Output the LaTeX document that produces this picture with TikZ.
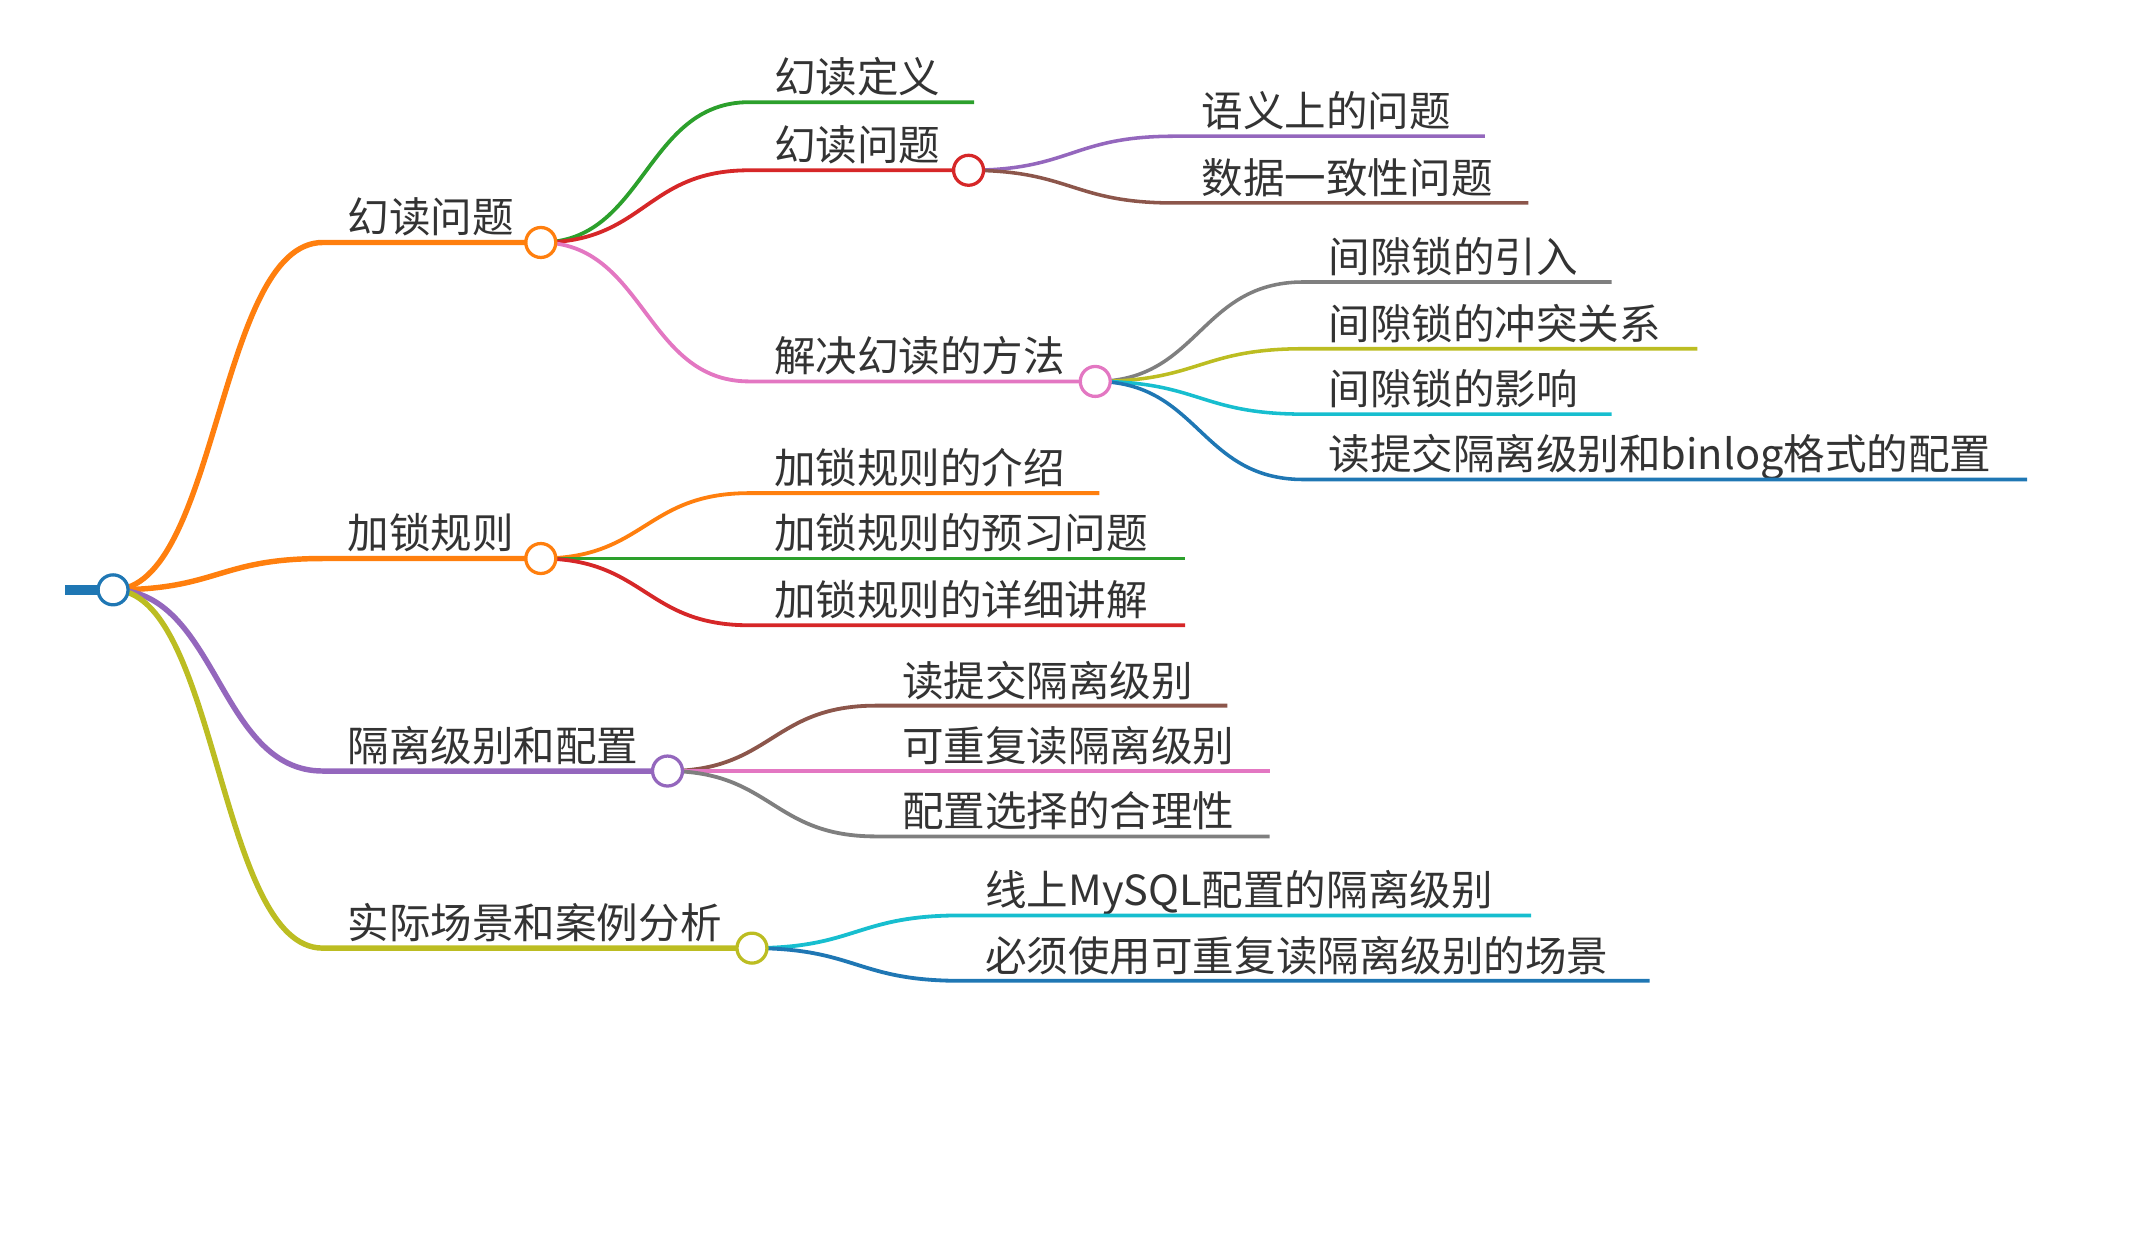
\documentclass[tikz,border=0pt]{standalone}
\usepackage{fontspec}
\setmainfont{Noto Sans CJK SC}
\usetikzlibrary{calc}
\definecolor{cOrange}{HTML}{FF7F0E}
\definecolor{cGreen}{HTML}{2CA02C}
\definecolor{cRed}{HTML}{D62728}
\definecolor{cPurple}{HTML}{9467BD}
\definecolor{cBrown}{HTML}{8C564B}
\definecolor{cPink}{HTML}{E377C2}
\definecolor{cGray}{HTML}{7F7F7F}
\definecolor{cOlive}{HTML}{BCBD22}
\definecolor{cCyan}{HTML}{17BECF}
\definecolor{cBlue}{HTML}{1F77B4}
\definecolor{txt}{HTML}{333333}
\tikzset{
  dot/.style={circle, draw=#1, fill=white, line width=2.4pt, minimum size=22pt, inner sep=0pt},
  lbl/.style={anchor=base west, text=txt, font=\fontsize{30.5}{36}\selectfont, inner sep=0pt},
}
\newcommand\mmlink[5]{%
  \draw[#1, line width=#2] let \p1=(#3), \p2=(#4) in (#3) .. controls ({(\x1+\x2)/2},\y1) and ({(\x1+\x2)/2},\y2) .. (#4) -- (#5);}
\begin{document}
\begin{tikzpicture}[x=1pt,y=-1pt]
\useasboundingbox (0,0) rectangle (1568,909);
% centres of circles
\coordinate (r) at (83,433);
\coordinate (p1) at (397,178);
\coordinate (p2) at (397,410);
\coordinate (p3) at (490,566);
\coordinate (p4) at (552,696);
\coordinate (q1) at (711,125);
\coordinate (q2) at (804,280);
% level 1
\coordinate (s1) at (237,178); \node[lbl] (t1) at (255,171) {幻读问题};
\coordinate (s2) at (237,410); \node[lbl] (t2) at (255,403) {加锁规则};
\coordinate (s3) at (237,566); \node[lbl] (t3) at (255,559) {隔离级别和配置};
\coordinate (s4) at (237,696); \node[lbl] (t4) at (255,689) {实际场景和案例分析};
\mmlink{cOrange}{4pt}{r}{s1}{p1}
\mmlink{cOrange}{4pt}{r}{s2}{p2}
\mmlink{cPurple}{4pt}{r}{s3}{p3}
\mmlink{cOlive}{4pt}{r}{s4}{p4}
% under p1
\coordinate (s11) at (550,75); \coordinate (e11) at (715,75); \node[lbl] (t11) at (568,68) {幻读定义};
\coordinate (s12) at (550,125); \node[lbl] (t12) at (568,118) {幻读问题};
\coordinate (s13) at (550,280); \node[lbl] (t13) at (568,273) {解决幻读的方法};
\mmlink{cGreen}{2.8pt}{p1}{s11}{e11}
\mmlink{cRed}{2.8pt}{p1}{s12}{q1}
\mmlink{cPink}{2.8pt}{p1}{s13}{q2}
% under q1
\coordinate (s121) at (862,100); \coordinate (e121) at (1090,100); \node[lbl] (t121) at (882,93) {语义上的问题};
\coordinate (s122) at (862,149); \coordinate (e122) at (1122,149); \node[lbl] (t122) at (882,142) {数据一致性问题};
\mmlink{cPurple}{2.6pt}{q1}{s121}{e121}
\mmlink{cBrown}{2.6pt}{q1}{s122}{e122}
% under q2
\coordinate (s131) at (957,207); \coordinate (e131) at (1183,207); \node[lbl] (t131) at (975,200) {间隙锁的引入};
\coordinate (s132) at (957,256); \coordinate (e132) at (1246,256); \node[lbl] (t132) at (975,249) {间隙锁的冲突关系};
\coordinate (s133) at (957,304); \coordinate (e133) at (1183,304); \node[lbl] (t133) at (975,297) {间隙锁的影响};
\coordinate (s134) at (957,352); \coordinate (e134) at (1488,352); \node[lbl] (t134) at (975,345) {读提交隔离级别和binlog格式的配置};
\mmlink{cGray}{2.6pt}{q2}{s131}{e131}
\mmlink{cOlive}{2.6pt}{q2}{s132}{e132}
\mmlink{cCyan}{2.6pt}{q2}{s133}{e133}
\mmlink{cBlue}{2.6pt}{q2}{s134}{e134}
% under p2
\coordinate (s21) at (550,362); \coordinate (e21) at (807,362); \node[lbl] (t21) at (568,355) {加锁规则的介绍};
\coordinate (s22) at (550,410); \coordinate (e22) at (870,410); \node[lbl] (t22) at (568,403) {加锁规则的预习问题};
\coordinate (s23) at (550,459); \coordinate (e23) at (870,459); \node[lbl] (t23) at (568,452) {加锁规则的详细讲解};
\mmlink{cOrange}{2.8pt}{p2}{s21}{e21}
\mmlink{cGreen}{2.8pt}{p2}{s22}{e22}
\mmlink{cRed}{2.8pt}{p2}{s23}{e23}
% under p3
\coordinate (s31) at (643,518); \coordinate (e31) at (901,518); \node[lbl] (t31) at (662,511) {读提交隔离级别};
\coordinate (s32) at (643,566); \coordinate (e32) at (932,566); \node[lbl] (t32) at (662,559) {可重复读隔离级别};
\coordinate (s33) at (643,614); \coordinate (e33) at (932,614); \node[lbl] (t33) at (662,607) {配置选择的合理性};
\mmlink{cBrown}{2.8pt}{p3}{s31}{e31}
\mmlink{cPink}{2.8pt}{p3}{s32}{e32}
\mmlink{cGray}{2.8pt}{p3}{s33}{e33}
% under p4
\coordinate (s41) at (705,672); \coordinate (e41) at (1124,672); \node[lbl] (t41) at (723,665) {线上MySQL配置的隔离级别};
\coordinate (s42) at (705,720); \coordinate (e42) at (1211,720); \node[lbl] (t42) at (723,713) {必须使用可重复读隔离级别的场景};
\mmlink{cCyan}{2.8pt}{p4}{s41}{e41}
\mmlink{cBlue}{2.8pt}{p4}{s42}{e42}
% root stub
\coordinate (stub) at (48,433);
\draw[cBlue, line width=7pt] (stub) -- (r);
% circles
\node[dot=cBlue] (root) at (r) {};
\node[dot=cOrange] (n1) at (p1) {};
\node[dot=cOrange] (n2) at (p2) {};
\node[dot=cPurple] (n3) at (p3) {};
\node[dot=cOlive] (n4) at (p4) {};
\node[dot=cRed] (m1) at (q1) {};
\node[dot=cPink] (m2) at (q2) {};
\end{tikzpicture}
\end{document}
